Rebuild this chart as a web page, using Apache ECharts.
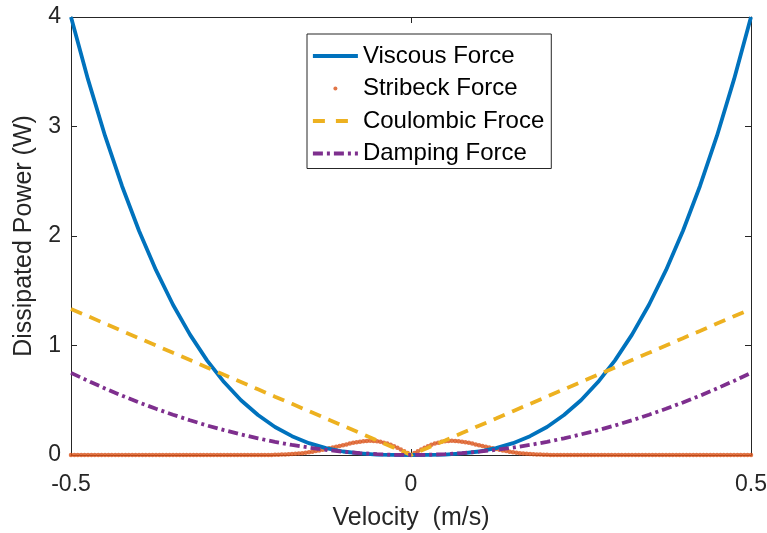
<!DOCTYPE html>
<html>
<head>
<meta charset="utf-8">
<script src="https://cdn.jsdelivr.net/npm/echarts@6/dist/echarts.min.js"></script>
<style>
html,body{margin:0;padding:0;background:#fff;}
#chart{width:767px;height:533px;}
</style>
</head>
<body>
<div id="chart"></div>
<script>
// ---- data ----
const seriesNames = ['Viscous Force', 'Stribeck Force', 'Coulombic Froce', 'Damping Force'];
const xTicks = [-0.5, 0, 0.5];
const xTickLabels = ['-0.5', '0', '0.5'];
const yTicks = [0, 1, 2, 3, 4];
const yTickLabels = ['0', '1', '2', '3', '4'];

const velocity = [-0.5,-0.475,-0.45,-0.425,-0.4,-0.375,-0.35,-0.325,-0.3,-0.275,-0.25,-0.225,-0.2,-0.175,-0.15,-0.125,-0.1,-0.075,-0.05,-0.025,
  0,0.025,0.05,0.075,0.1,0.125,0.15,0.175,0.2,0.225,0.25,0.275,0.3,0.325,0.35,0.375,0.4,0.425,0.45,0.475,0.5];

const viscous = [4.0,3.43,2.916,2.457,2.048,1.688,1.372,1.099,0.864,0.666,0.5,0.365,0.256,0.172,0.108,0.063,0.032,0.014,0.004,0.001,
  0,0.001,0.004,0.014,0.032,0.063,0.108,0.172,0.256,0.365,0.5,0.666,0.864,1.099,1.372,1.688,2.048,2.457,2.916,3.43,4.0];

const coulombic = [1.333,1.267,1.2,1.133,1.067,1.0,0.933,0.867,0.8,0.733,0.667,0.6,0.533,0.467,0.4,0.333,0.267,0.2,0.133,0.067,
  0,0.067,0.133,0.2,0.267,0.333,0.4,0.467,0.533,0.6,0.667,0.733,0.8,0.867,0.933,1.0,1.067,1.133,1.2,1.267,1.333];

const damping = [0.75,0.677,0.608,0.542,0.48,0.422,0.368,0.317,0.27,0.227,0.188,0.152,0.12,0.092,0.068,0.047,0.03,0.017,0.0075,0.002,
  0,0.002,0.0075,0.017,0.03,0.047,0.068,0.092,0.12,0.152,0.188,0.227,0.27,0.317,0.368,0.422,0.48,0.542,0.608,0.677,0.75];

const stribeckVelocity = [
  -0.500,-0.495,-0.490,-0.485,-0.480,-0.475,-0.470,-0.465,-0.460,-0.455,
  -0.450,-0.445,-0.440,-0.435,-0.430,-0.425,-0.420,-0.415,-0.410,-0.405,
  -0.400,-0.395,-0.390,-0.385,-0.380,-0.375,-0.370,-0.365,-0.360,-0.355,
  -0.350,-0.345,-0.340,-0.335,-0.330,-0.325,-0.320,-0.315,-0.310,-0.305,
  -0.300,-0.295,-0.290,-0.285,-0.280,-0.275,-0.270,-0.265,-0.260,-0.255,
  -0.250,-0.245,-0.240,-0.235,-0.230,-0.225,-0.220,-0.215,-0.210,-0.205,
  -0.200,-0.195,-0.190,-0.185,-0.180,-0.175,-0.170,-0.165,-0.160,-0.155,
  -0.150,-0.145,-0.140,-0.135,-0.130,-0.125,-0.120,-0.115,-0.110,-0.105,
  -0.100,-0.095,-0.090,-0.085,-0.080,-0.075,-0.070,-0.065,-0.060,-0.055,
  -0.050,-0.045,-0.040,-0.035,-0.030,-0.025,-0.020,-0.015,-0.010,-0.005,
  0.000,0.005,0.010,0.015,0.020,0.025,0.030,0.035,0.040,0.045,
  0.050,0.055,0.060,0.065,0.070,0.075,0.080,0.085,0.090,0.095,
  0.100,0.105,0.110,0.115,0.120,0.125,0.130,0.135,0.140,0.145,
  0.150,0.155,0.160,0.165,0.170,0.175,0.180,0.185,0.190,0.195,
  0.200,0.205,0.210,0.215,0.220,0.225,0.230,0.235,0.240,0.245,
  0.250,0.255,0.260,0.265,0.270,0.275,0.280,0.285,0.290,0.295,
  0.300,0.305,0.310,0.315,0.320,0.325,0.330,0.335,0.340,0.345,
  0.350,0.355,0.360,0.365,0.370,0.375,0.380,0.385,0.390,0.395,
  0.400,0.405,0.410,0.415,0.420,0.425,0.430,0.435,0.440,0.445,
  0.450,0.455,0.460,0.465,0.470,0.475,0.480,0.485,0.490,0.495,
  0.500];

const stribeck = [
  0,0,0,0,0,0,0,0,0,0,
  0,0,0,0,0,0,0,0,0,0,
  0,0,0,0,0,0,0,0,0,0,
  0,0,0,0,0,0,0,0,0,0,
  0,0,0,0,0,0,0,0,0,0,
  0,0,0,0,0,0,0,0,0,0,
  0.002,0.003,0.004,0.005,0.007,0.009,0.011,0.014,0.017,0.021,
  0.025,0.030,0.036,0.042,0.048,0.055,0.062,0.069,0.075,0.082,
  0.089,0.097,0.104,0.111,0.117,0.122,0.126,0.128,0.129,0.128,
  0.125,0.120,0.113,0.104,0.093,0.081,0.067,0.051,0.035,0.018,
  0,0.018,0.035,0.051,0.067,0.081,0.093,0.104,0.113,0.120,
  0.125,0.128,0.129,0.128,0.126,0.122,0.117,0.111,0.104,0.097,
  0.089,0.082,0.075,0.069,0.062,0.055,0.048,0.042,0.036,0.030,
  0.025,0.021,0.017,0.014,0.011,0.009,0.007,0.005,0.004,0.003,
  0.002,0,0,0,0,0,0,0,0,0,
  0,0,0,0,0,0,0,0,0,0,
  0,0,0,0,0,0,0,0,0,0,
  0,0,0,0,0,0,0,0,0,0,
  0,0,0,0,0,0,0,0,0,0,
  0,0,0,0,0,0,0,0,0,0,
  0];

// ---- chart ----
const FONT = 'Liberation Sans, Arial, Helvetica, sans-serif';
const AX = '#262626';
const colors = ['#0072BD', '#D95319', '#EDB120', '#7E2F8E'];
const LW = 3.8;

function pairs(xs, ys) { return xs.map((x, i) => [x, ys[i]]); }

const chart = echarts.init(document.getElementById('chart'), null, {renderer: 'canvas'});

const axisCommon = {
  type: 'value',
  axisLine: {show: true, onZero: false, lineStyle: {color: AX, width: 1}},
  axisTick: {show: true, inside: true, length: 6, lineStyle: {color: AX, width: 1}},
  splitLine: {show: false},
  minorTick: {show: false}
};

const hiddenSymbol = {opacity: 0};

const option = {
  animation: false,
  backgroundColor: '#fff',
  textStyle: {fontFamily: FONT},
  grid: {left: 71, right: 16, top: 17, bottom: 78, containLabel: false, outerBoundsMode: 'none'},
  legend: {
    orient: 'vertical',
    left: 307, top: 34,
    padding: [10, 7, 3, 4],
    itemWidth: 45, itemHeight: 14, itemGap: 8.5,
    backgroundColor: '#fff',
    borderColor: AX, borderWidth: 1, borderRadius: 0,
    textStyle: {fontSize: 24, color: '#000', fontFamily: FONT},
    data: [
      {name: seriesNames[0], itemStyle: hiddenSymbol, lineStyle: {width: LW, color: colors[0], type: 'solid'}},
      {name: seriesNames[1], icon: 'path://M0,0M45,14M20.5,7a2,2 0 1,0 4,0a2,2 0 1,0 -4,0z'},
      {name: seriesNames[2], itemStyle: hiddenSymbol, lineStyle: {width: LW, color: colors[2], type: [12, 11]}},
      {name: seriesNames[3], itemStyle: hiddenSymbol, lineStyle: {width: LW, color: colors[3], type: [10, 4, 3, 4]}}
    ]
  },
  xAxis: [
    Object.assign({}, axisCommon, {
      position: 'bottom', min: -0.5, max: 0.5, interval: 0.5,
      axisLabel: {show: true, margin: 18, fontSize: 23, color: AX, fontFamily: FONT,
        formatter: v => xTickLabels[xTicks.indexOf(v)] ?? ''},
      name: 'Velocity  (m/s)', nameLocation: 'middle', nameGap: 51,
      nameTextStyle: {fontSize: 25, color: AX, fontFamily: FONT}
    }),
    Object.assign({}, axisCommon, {
      position: 'top', min: -0.5, max: 0.5, interval: 0.5, axisLabel: {show: false}
    })
  ],
  yAxis: [
    Object.assign({}, axisCommon, {
      position: 'left', min: 0, max: 4, interval: 1,
      axisLabel: {show: true, margin: 10, fontSize: 23, color: AX, fontFamily: FONT,
        padding: [5, 0, 0, 0],
        formatter: v => yTickLabels[yTicks.indexOf(v)] ?? ''},
      name: 'Dissipated Power (W)', nameLocation: 'middle', nameGap: 34, nameRotate: 90,
      nameTextStyle: {fontSize: 25, color: AX, fontFamily: FONT}
    }),
    Object.assign({}, axisCommon, {
      position: 'right', min: 0, max: 4, interval: 1, axisLabel: {show: false}
    })
  ],
  series: [
    {
      name: seriesNames[0], type: 'line', xAxisIndex: 0, yAxisIndex: 0,
      data: pairs(velocity, viscous), symbol: 'none', showSymbol: false,
      lineStyle: {color: colors[0], width: LW, type: 'solid'}, itemStyle: {color: colors[0]}
    },
    {
      name: seriesNames[1], type: 'scatter', xAxisIndex: 0, yAxisIndex: 0,
      data: pairs(stribeckVelocity, stribeck), symbol: 'circle', symbolSize: 4.5,
      itemStyle: {color: colors[1]}
    },
    {
      name: seriesNames[2], type: 'line', xAxisIndex: 0, yAxisIndex: 0,
      data: pairs(velocity, coulombic), symbol: 'none', showSymbol: false,
      lineStyle: {color: colors[2], width: LW, type: [12, 8]}, itemStyle: {color: colors[2]}
    },
    {
      name: seriesNames[3], type: 'line', xAxisIndex: 0, yAxisIndex: 0,
      data: pairs(velocity, damping), symbol: 'none', showSymbol: false,
      lineStyle: {color: colors[3], width: LW, type: [10, 4, 3, 4]}, itemStyle: {color: colors[3]}
    }
  ]
};
chart.setOption(option);
</script>
</body>
</html>
